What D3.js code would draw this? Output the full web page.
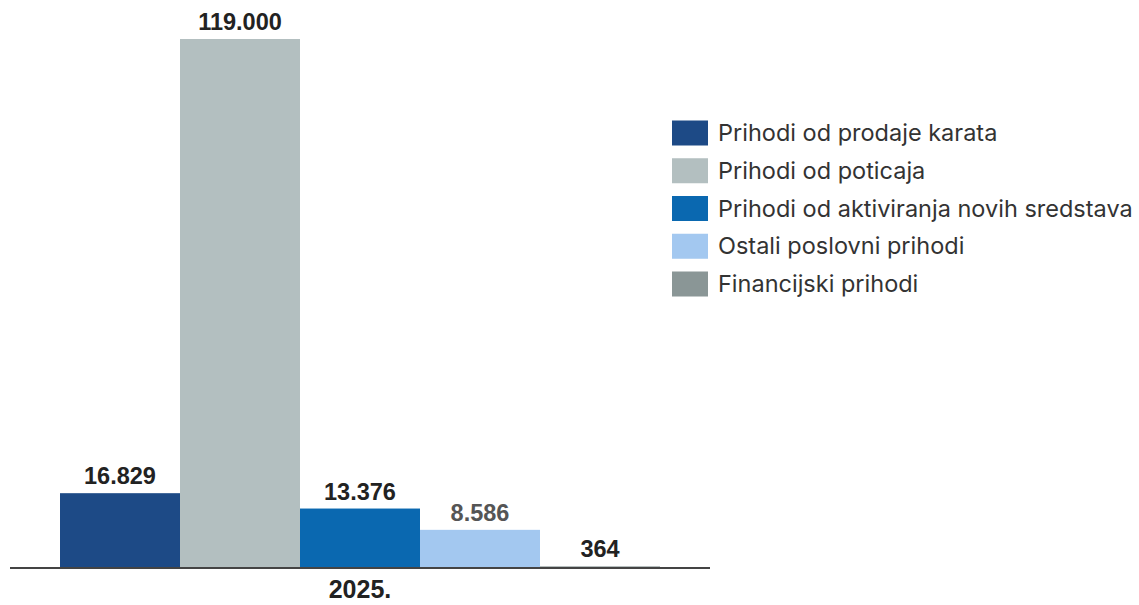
<!DOCTYPE html>
<html>
<head>
<meta charset="utf-8">
<script src="https://cdn.jsdelivr.net/npm/d3@7"></script>
<style>
  html, body { margin: 0; padding: 0; background: #fff; }
  svg { display: block; }
</style>
</head>
<body>
<svg id="chart" width="1139" height="605"></svg>
<script>
const categories = ["2025."];
const seriesNames = [
  "Prihodi od prodaje karata",
  "Prihodi od poticaja",
  "Prihodi od aktiviranja novih sredstava",
  "Ostali poslovni prihodi",
  "Financijski prihodi"
];
const seriesValues = [16829, 119000, 13376, 8586, 364];
const valueLabels = ["16.829", "119.000", "13.376", "8.586", "364"];
const seriesColors = ["#1d4a86", "#b3bfc0", "#0a68b0", "#a3c8f0", "#8a9696"];
const labelColors = ["#222", "#222", "#222", "#555", "#222"];

const svg = d3.select("#chart");

const baseY = 568;
const y = d3.scaleLinear().domain([0, 119000]).range([baseY, 39]);
const xCat = d3.scaleBand().domain(categories).range([60, 660]).padding(0);
const xSer = d3.scaleBand().domain(seriesNames).range([0, xCat.bandwidth()]).padding(0);

const g = svg.append("g");

categories.forEach(cat => {
  const grp = g.append("g").attr("transform", `translate(${xCat(cat)},0)`);
  grp.selectAll("rect")
    .data(seriesNames.map((s, i) => ({ s, v: seriesValues[i], c: seriesColors[i] })))
    .join("rect")
    .attr("x", d => xSer(d.s))
    .attr("width", xSer.bandwidth())
    .attr("y", d => y(d.v))
    .attr("height", d => baseY - y(d.v))
    .attr("fill", d => d.c);
  grp.selectAll("text.val")
    .data(seriesNames.map((s, i) => ({ s, v: seriesValues[i], l: valueLabels[i], c: labelColors[i] })))
    .join("text")
    .attr("class", "val")
    .attr("x", d => xSer(d.s) + xSer.bandwidth() / 2)
    .attr("y", d => y(d.v) - 9)
    .attr("text-anchor", "middle")
    .attr("font-family", "Liberation Sans, Arial, sans-serif")
    .attr("font-weight", "bold")
    .attr("font-size", 23.5)
    .attr("fill", d => d.c)
    .text(d => d.l);
});

// baseline axis
const xAxis = d3.axisBottom(xCat).tickSize(0).tickPadding(12);
const ax = svg.append("g").attr("transform", `translate(0,${baseY})`).call(xAxis);
ax.select(".domain").remove();
ax.selectAll("text")
  .attr("font-family", "Liberation Sans, Arial, sans-serif")
  .attr("font-weight", "bold")
  .attr("font-size", 25)
  .attr("fill", "#222");
svg.append("line")
  .attr("x1", 10).attr("x2", 710)
  .attr("y1", baseY).attr("y2", baseY)
  .attr("stroke", "#444").attr("stroke-width", 2);

// legend
const legend = svg.append("g").attr("transform", "translate(672,0)");
const rowY = d3.scalePoint().domain(seriesNames).range([133, 284]);
seriesNames.forEach((s, i) => {
  legend.append("rect")
    .attr("x", 0).attr("y", rowY(s) - 12.5)
    .attr("width", 36).attr("height", 25)
    .attr("fill", seriesColors[i]);
  legend.append("text")
    .attr("x", 46).attr("y", rowY(s))
    .attr("dy", "0.35em")
    .attr("font-family", "Inter, 'Open Sans', sans-serif")
    .attr("font-size", 23.5)
    .attr("fill", "#333")
    .text(s);
});
</script>
</body>
</html>
